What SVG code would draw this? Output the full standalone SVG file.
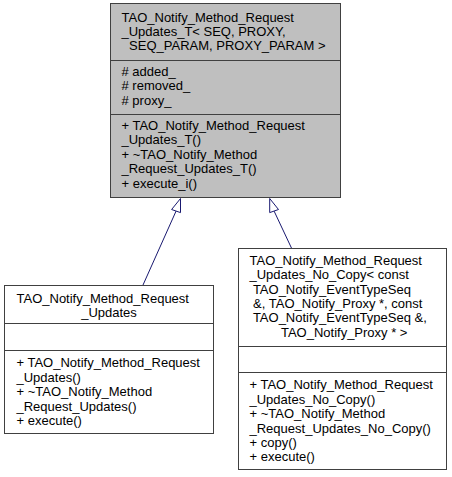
<svg xmlns="http://www.w3.org/2000/svg" width="452" height="477" viewBox="0 0 452 477">
<style>
  text { font-family: "Liberation Sans", Arial, sans-serif; font-size: 13px; fill: #000; white-space: pre; }
  .box { stroke: #404040; stroke-width: 1; }
  .main { fill: #bfbfbf; }
  .plain { fill: #ffffff; }
  .sep { stroke: #404040; stroke-width: 1; fill: none; }
  .edge { stroke: #191970; stroke-width: 1; fill: none; }
  .head { stroke: #191970; stroke-width: 1; fill: #ffffff; }
  .c { text-anchor: middle; }
</style>
<rect width="452" height="477" fill="#ffffff"/>
<g id="connectors">
  <path class="edge" d="M143,285 L176.1,211"/>
  <polygon class="head" points="180.5,198.5 180.5,212.6 171.6,209.5"/>
  <path class="edge" d="M291.7,248.5 L274.1,211.1"/>
  <polygon class="head" points="269.7,198.5 278.5,209.5 269.7,212.6"/>
</g>
<g id="node-base">
  <rect class="box main" x="110.5" y="3.5" width="230" height="194"/>
  <path class="sep" d="M110.5,60.5 H340.5 M110.5,114.5 H340.5"/>
  <text x="121.5" y="21.5">TAO_Notify_Method_Request</text>
  <text x="121.5" y="35.9">_Updates_T&lt; SEQ, PROXY,</text>
  <text class="c" x="225.5" y="50.3" xml:space="preserve"> SEQ_PARAM, PROXY_PARAM &gt;</text>
  <text x="121.5" y="75.8"># added_</text>
  <text x="121.5" y="90.2"># removed_</text>
  <text x="121.5" y="104.6"># proxy_</text>
  <text x="121.5" y="130">+ TAO_Notify_Method_Request</text>
  <text x="121.5" y="144.4">_Updates_T()</text>
  <text x="121.5" y="158.8">+ ~TAO_Notify_Method</text>
  <text x="121.5" y="173.2">_Request_Updates_T()</text>
  <text x="121.5" y="187.6">+ execute_i()</text>
</g>
<g id="node-updates">
  <rect class="box plain" x="4.5" y="285.5" width="209" height="148"/>
  <path class="sep" d="M4.5,323.5 H213.5 M4.5,350.5 H213.5"/>
  <text x="16.5" y="302.5">TAO_Notify_Method_Request</text>
  <text class="c" x="109" y="316.9">_Updates</text>
  <text x="16.5" y="367.3">+ TAO_Notify_Method_Request</text>
  <text x="16.5" y="381.7">_Updates()</text>
  <text x="16.5" y="396.1">+ ~TAO_Notify_Method</text>
  <text x="16.5" y="410.5">_Request_Updates()</text>
  <text x="16.5" y="424.9">+ execute()</text>
</g>
<g id="node-nocopy">
  <rect class="box plain" x="238.5" y="248.5" width="208" height="221"/>
  <path class="sep" d="M238.5,346.5 H446.5 M238.5,372.5 H446.5"/>
  <text x="249.5" y="264.7">TAO_Notify_Method_Request</text>
  <text x="249.5" y="279.1">_Updates_No_Copy&lt; const</text>
  <text x="249.5" y="293.5" xml:space="preserve"> TAO_Notify_EventTypeSeq</text>
  <text x="249.5" y="307.9" xml:space="preserve"> &amp;, TAO_Notify_Proxy *, const</text>
  <text x="249.5" y="322.3" xml:space="preserve"> TAO_Notify_EventTypeSeq &amp;,</text>
  <text class="c" x="342.5" y="336.7" xml:space="preserve"> TAO_Notify_Proxy * &gt;</text>
  <text x="249.5" y="389.3">+ TAO_Notify_Method_Request</text>
  <text x="249.5" y="403.7">_Updates_No_Copy()</text>
  <text x="249.5" y="418.1">+ ~TAO_Notify_Method</text>
  <text x="249.5" y="432.5">_Request_Updates_No_Copy()</text>
  <text x="249.5" y="446.9">+ copy()</text>
  <text x="249.5" y="461.3">+ execute()</text>
</g>
</svg>
